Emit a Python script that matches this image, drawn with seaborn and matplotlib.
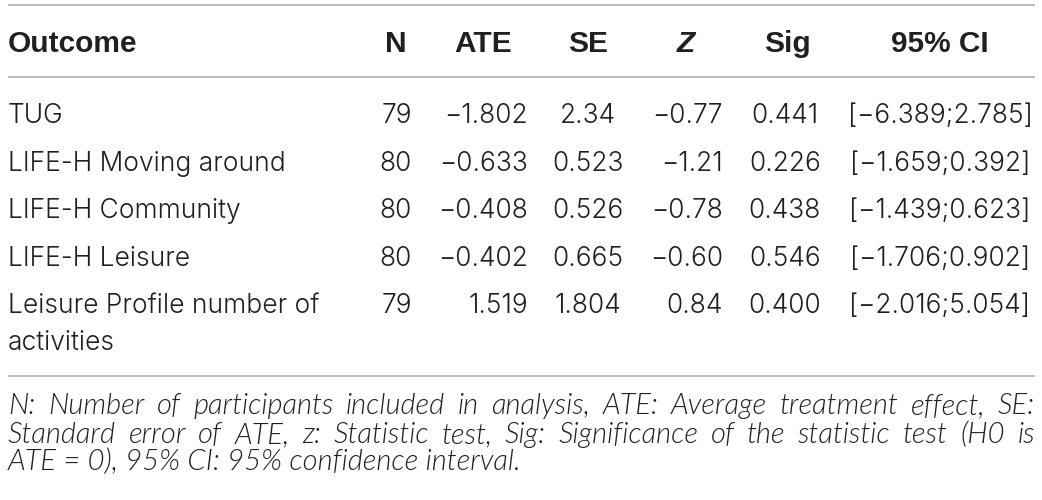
import matplotlib
matplotlib.use("Agg")
import matplotlib.pyplot as plt
import seaborn as sns

# ---- data ----
outcomes = ["TUG", "LIFE-H Moving around", "LIFE-H Community", "LIFE-H Leisure",
            "Leisure Profile number of\nactivities"]
n_vals = ["79", "80", "80", "80", "79"]
ate_vals = ["\u22121.802", "\u22120.633", "\u22120.408", "\u22120.402", "1.519"]
se_vals = ["2.34", "0.523", "0.526", "0.665", "1.804"]
z_vals = ["\u22120.77", "\u22121.21", "\u22120.78", "\u22120.60", "0.84"]
sig_vals = ["0.441", "0.226", "0.438", "0.546", "0.400"]
ci_low = ["\u22126.389", "\u22121.659", "\u22121.439", "\u22121.706", "\u22122.016"]
ci_high = ["2.785", "0.392", "0.623", "0.902", "5.054"]
headers = ["Outcome", "N", "ATE", "SE", "Z", "Sig", "95% CI"]
note_lines = [
    "N: Number of participants included in analysis, ATE: Average treatment effect, SE:",
    "Standard error of ATE, z: Statistic test, Sig: Significance of the statistic test (H0 is",
    "ATE = 0), 95% CI: 95% confidence interval.",
]

sns.set_theme(style="white")
plt.rcParams["font.family"] = ["Liberation Sans", "DejaVu Sans"]

W, H = 1042, 500
fig = plt.figure(figsize=(W / 100, H / 100), dpi=100)
ax = fig.add_axes([0, 0, 1, 1])
ax.set_xlim(0, W)
ax.set_ylim(H, 0)
ax.axis("off")
sns.despine(ax=ax, left=True, bottom=True)

txt = "#231f20"
line_c = "#b8b8b8"
body_family = ["Inter", "Liberation Sans", "DejaVu Sans"]
body_kw = dict(fontsize=19, fontweight=300, family=body_family, color=txt, va="baseline")
head_fs = 21.5

# rules
for y in (5, 77, 376):
    ax.plot([8, 1035], [y, y], color=line_c, lw=1.3, solid_capstyle="butt")

# header
head_y = 52
head_x = [8, 396, 483, 588, 686, 787, 940]
for i, (h, x) in enumerate(zip(headers, head_x)):
    ha = "left" if i == 0 else "center"
    style = "italic" if h == "Z" else "normal"
    ax.text(x, head_y, h, ha=ha, va="baseline", fontsize=head_fs,
            fontweight="bold", fontstyle=style, color=txt)

# body rows
row_base = [123, 171, 218, 266, 313]
wrap_gap = 37
for i in range(len(outcomes)):
    y = row_base[i]
    for k, part in enumerate(outcomes[i].split("\n")):
        ax.text(8, y + k * wrap_gap, part, ha="left", **body_kw)
    ax.text(412, y, n_vals[i], ha="right", **body_kw)
    ax.text(528, y, ate_vals[i], ha="right", **body_kw)
    ax.text(588, y, se_vals[i], ha="center", **body_kw)
    ax.text(723, y, z_vals[i], ha="right", **body_kw)
    ax.text(785, y, sig_vals[i], ha="center", **body_kw)
    ax.text(940, y, "[" + ci_low[i] + ";" + ci_high[i] + "]", ha="center", **body_kw)

# notes (justified)
note_kw = dict(va="baseline", fontstyle="italic", fontweight=300,
               family=["Lato", "Liberation Sans", "DejaVu Sans"], color=txt)
note_base = [414, 443, 470]
fig.canvas.draw()
rend = fig.canvas.get_renderer()
x0, x1 = 8, 1035

# choose a size at which the widest line still fits with normal spaces
note_fs = 21.0
while True:
    ok = True
    for line in note_lines[:2]:
        t = ax.text(0, 0, line, fontsize=note_fs, **note_kw)
        w = t.get_window_extent(rend).width
        t.remove()
        if w > (x1 - x0) - 2:
            ok = False
    if ok or note_fs < 14:
        break
    note_fs -= 0.25

for li, line in enumerate(note_lines):
    y = note_base[li]
    if li < len(note_lines) - 1:
        words = line.split(" ")
        ts = [ax.text(0, y, w, ha="left", fontsize=note_fs, **note_kw) for w in words]
        widths = [t.get_window_extent(rend).width for t in ts]
        gap = (x1 - x0 - sum(widths)) / (len(words) - 1)
        x = x0
        for t, w in zip(ts, widths):
            t.set_x(x)
            x += w + gap
    else:
        ax.text(x0, y, line, ha="left", fontsize=note_fs, **note_kw)

fig.savefig("out.png", dpi=100)
